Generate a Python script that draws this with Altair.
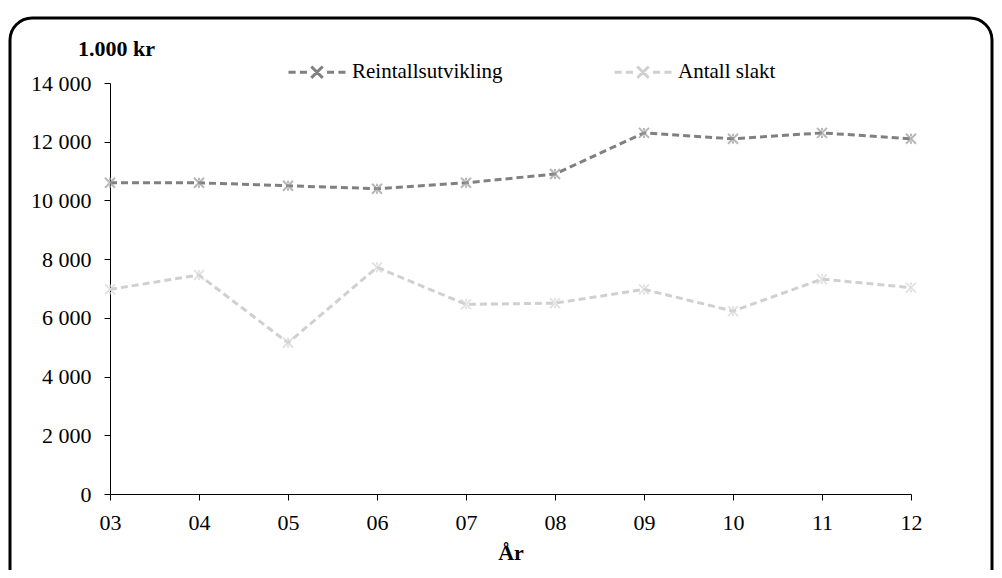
import altair as alt
import pandas as pd

years = ["03", "04", "05", "06", "07", "08", "09", "10", "11", "12"]
reintall = [10600, 10600, 10500, 10400, 10600, 10900, 12300, 12100, 12300, 12100]
slakt = [6970, 7460, 5150, 7720, 6460, 6500, 6970, 6230, 7320, 7030]
series_names = ["Reintallsutvikling", "Antall slakt"]
line_colors = ["#808080", "#d0d0d0"]
marker_colors = ["#9a9a9a", "#d8d8d8"]
y_ticks = [0, 2000, 4000, 6000, 8000, 10000, 12000, 14000]

rows = []
for yr, a, b in zip(years, reintall, slakt):
    rows.append({"aar": yr, "serie": series_names[0], "verdi": a})
    rows.append({"aar": yr, "serie": series_names[1], "verdi": b})
df = pd.DataFrame(rows)

W, H = 801, 411
FONT = "Liberation Serif"
FS = 22

X_PATH = "M-1,-1L1,1M-1,1L1,-1M0,-1L0,-0.5M0,0.5L0,1"
LEG_PATH = ("M-1,0H-0.75M-0.6,0H-0.35M-0.2,-0.2L0.2,0.2M-0.2,0.2L0.2,-0.2"
            "M0.35,0H0.6M0.75,0H1")

x_enc = alt.X(
    "aar:O",
    sort=years,
    scale=alt.Scale(type="point", padding=0),
    axis=alt.Axis(
        title="År", labelAngle=0, grid=False, domainColor="black", tickColor="black",
        tickSize=6, labelFont=FONT, labelFontSize=FS, labelColor="black", labelPadding=12,
        titleFont=FONT, titleFontSize=FS, titleFontWeight="bold", titleColor="black",
        titlePadding=9,
    ),
)
y_enc = alt.Y(
    "verdi:Q",
    scale=alt.Scale(domain=[0, 14000], nice=False),
    axis=alt.Axis(
        values=y_ticks, grid=False, domainColor="black", tickColor="black", tickSize=6,
        labelFont=FONT, labelFontSize=FS, labelColor="black", labelPadding=13,
        labelExpr="replace(format(datum.value, ','), ',', ' ')",
        title="1.000 kr", titleAngle=0, titleX=6, titleY=-35, titleAlign="center",
        titleBaseline="middle", titleFont=FONT, titleFontSize=FS, titleFontWeight="bold",
        titleColor="black",
    ),
)

base = alt.Chart(df)

lines = base.mark_line(strokeDash=[7, 4], strokeWidth=3).encode(
    x=x_enc,
    y=y_enc,
    color=alt.Color(
        "serie:N",
        scale=alt.Scale(domain=series_names, range=line_colors),
        legend=alt.Legend(
            title=None, orient="none", legendX=177, legendY=-41, direction="horizontal",
            symbolType=LEG_PATH, symbolSize=3249, symbolStrokeWidth=3,
            labelFont=FONT, labelFontSize=21, labelColor="black", labelOffset=5,
            columnPadding=105,
        ),
    ),
)

points = base.mark_point(shape=X_PATH, filled=False, size=100, strokeWidth=2).encode(
    x=x_enc,
    y=y_enc,
    color=alt.Color(
        "serie:N",
        scale=alt.Scale(domain=series_names, range=marker_colors),
        legend=None,
    ),
)

border = alt.Chart(alt.Data(values=[{}])).mark_rect(
    fillOpacity=0, stroke="black", strokeWidth=3, cornerRadius=22
).encode(
    x=alt.value(-100), x2=alt.value(882), y=alt.value(-65), y2=alt.value(530)
)

chart = (
    alt.layer(border, lines, points)
    .resolve_scale(color="independent")
    .properties(
        width=W, height=H,
        background="white",
        autosize=alt.AutoSizeParams(type="none"),
        padding={"left": 102, "top": 75, "right": 83, "bottom": 76},
    )
    .configure_view(strokeWidth=0, stroke="transparent")
)

chart.save("out.html", embed_options={"renderer": "svg", "actions": False})
